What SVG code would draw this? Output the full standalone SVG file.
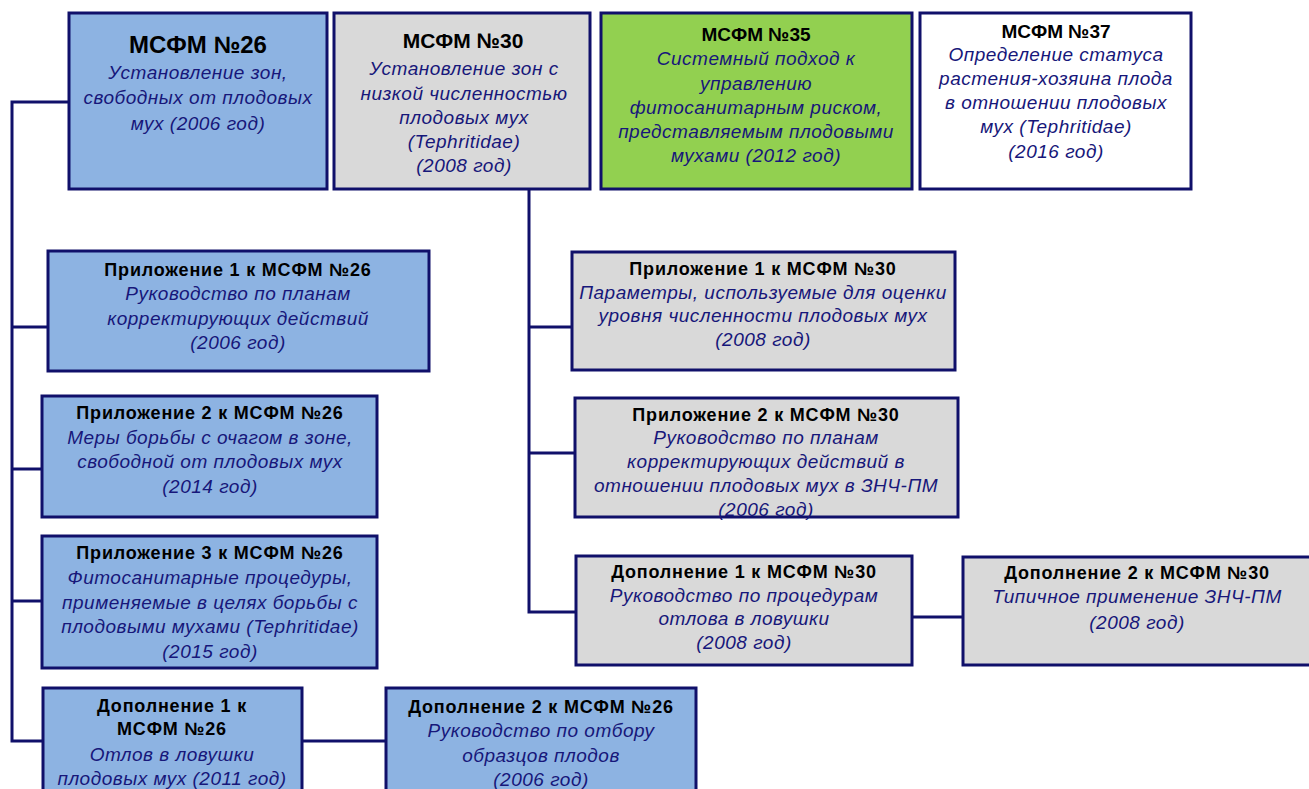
<svg xmlns="http://www.w3.org/2000/svg" width="1309" height="789" viewBox="0 0 1309 789">
<style>
.box{stroke:#10106a;stroke-width:3}
.blue{fill:#8db3e2}.gray{fill:#d9d9d9}.green{fill:#92d050}.white{fill:#ffffff}
.t{font-family:"Liberation Sans",Arial,sans-serif;font-weight:bold;fill:#000;text-anchor:middle;font-size:18px;letter-spacing:0.8px}
.h{letter-spacing:0}
.s{font-family:"Liberation Sans",Arial,sans-serif;font-style:italic;fill:#17177a;text-anchor:middle;font-size:19px;letter-spacing:0.5px}
.c{stroke:#10106a;stroke-width:3;fill:none}
</style>
<rect width="1309" height="789" fill="#fff"/>
<g id="connectors">
<polyline class="c" points="69,102 12,102 12,741 43,741"/>
<line class="c" x1="12" y1="327" x2="48" y2="327"/>
<line class="c" x1="12" y1="469" x2="42" y2="469"/>
<line class="c" x1="12" y1="601" x2="42" y2="601"/>
<line class="c" x1="302" y1="741" x2="386" y2="741"/>
<polyline class="c" points="529,189 529,612 576,612"/>
<line class="c" x1="529" y1="327" x2="572" y2="327"/>
<line class="c" x1="529" y1="453" x2="575" y2="453"/>
<line class="c" x1="912" y1="617" x2="963" y2="617"/>
</g>
<g id="ispm26">
<rect class="box blue" x="69" y="13" width="258" height="176"/>
<text class="t h" x="198" y="53" style="font-size:24px">МСФМ №26</text>
<text class="s" x="198" y="79">Установление зон,</text>
<text class="s" x="198" y="104">свободных от плодовых</text>
<text class="s" x="198" y="130">мух (2006 год)</text>
</g>
<g id="ispm30">
<rect class="box gray" x="334" y="13" width="256" height="176"/>
<text class="t h" x="463" y="48" style="font-size:21px">МСФМ №30</text>
<text class="s" x="464" y="75">Установление зон с</text>
<text class="s" x="464" y="100">низкой численностью</text>
<text class="s" x="464" y="124">плодовых мух</text>
<text class="s" x="464" y="148">(Tephritidae)</text>
<text class="s" x="464" y="172">(2008 год)</text>
</g>
<g id="ispm35">
<rect class="box green" x="601" y="13" width="311" height="176"/>
<text class="t h" x="756" y="41" style="font-size:19px">МСФМ №35</text>
<text class="s" x="756" y="65">Системный подход к</text>
<text class="s" x="756" y="90">управлению</text>
<text class="s" x="756" y="114">фитосанитарным риском,</text>
<text class="s" x="756" y="138">представляемым плодовыми</text>
<text class="s" x="756" y="162">мухами (2012 год)</text>
</g>
<g id="ispm37">
<rect class="box white" x="920" y="13" width="271" height="176"/>
<text class="t h" x="1056" y="38" style="font-size:19px">МСФМ №37</text>
<text class="s" x="1056" y="61">Определение статуса</text>
<text class="s" x="1056" y="85">растения-хозяина плода</text>
<text class="s" x="1056" y="109">в отношении плодовых</text>
<text class="s" x="1056" y="133">мух (Tephritidae)</text>
<text class="s" x="1056" y="158">(2016 год)</text>
</g>
<g id="annex1-26">
<rect class="box blue" x="48" y="251" width="381" height="120"/>
<text class="t" x="238" y="276">Приложение 1 к МСФМ №26</text>
<text class="s" x="238" y="300">Руководство по планам</text>
<text class="s" x="238" y="325">корректирующих действий</text>
<text class="s" x="238" y="349">(2006 год)</text>
</g>
<g id="annex2-26">
<rect class="box blue" x="42" y="396" width="335" height="121"/>
<text class="t" x="210" y="419">Приложение 2 к МСФМ №26</text>
<text class="s" x="210" y="444">Меры борьбы с очагом в зоне,</text>
<text class="s" x="210" y="468">свободной от плодовых мух</text>
<text class="s" x="210" y="493">(2014 год)</text>
</g>
<g id="annex3-26">
<rect class="box blue" x="42" y="536" width="335" height="132"/>
<text class="t" x="210" y="559">Приложение 3 к МСФМ №26</text>
<text class="s" x="210" y="584">Фитосанитарные процедуры,</text>
<text class="s" x="210" y="609">применяемые в целях борьбы с</text>
<text class="s" x="210" y="633">плодовыми мухами (Tephritidae)</text>
<text class="s" x="210" y="658">(2015 год)</text>
</g>
<g id="app1-26">
<rect class="box blue" x="43" y="688" width="259" height="110"/>
<text class="t" x="172" y="712">Дополнение 1 к</text>
<text class="t" x="172" y="735">МСФМ №26</text>
<text class="s" x="172" y="761">Отлов в ловушки</text>
<text class="s" x="172" y="785">плодовых мух (2011 год)</text>
</g>
<g id="app2-26">
<rect class="box blue" x="386" y="688" width="310" height="110"/>
<text class="t" x="541" y="713">Дополнение 2 к МСФМ №26</text>
<text class="s" x="541" y="737">Руководство по отбору</text>
<text class="s" x="541" y="762">образцов плодов</text>
<text class="s" x="541" y="786">(2006 год)</text>
</g>
<g id="annex1-30">
<rect class="box gray" x="572" y="252" width="383" height="118"/>
<text class="t" x="763" y="275">Приложение 1 к МСФМ №30</text>
<text class="s" x="763" y="299">Параметры, используемые для оценки</text>
<text class="s" x="763" y="322">уровня численности плодовых мух</text>
<text class="s" x="763" y="346">(2008 год)</text>
</g>
<g id="annex2-30">
<rect class="box gray" x="575" y="398" width="383" height="119"/>
<text class="t" x="766" y="421">Приложение 2 к МСФМ №30</text>
<text class="s" x="766" y="444">Руководство по планам</text>
<text class="s" x="766" y="468">корректирующих действий в</text>
<text class="s" x="766" y="492">отношении плодовых мух в ЗНЧ-ПМ</text>
<text class="s" x="766" y="516">(2006 год)</text>
</g>
<g id="app1-30">
<rect class="box gray" x="576" y="556" width="336" height="109"/>
<text class="t" x="744" y="578">Дополнение 1 к МСФМ №30</text>
<text class="s" x="744" y="602">Руководство по процедурам</text>
<text class="s" x="744" y="625">отлова в ловушки</text>
<text class="s" x="744" y="649">(2008 год)</text>
</g>
<g id="app2-30">
<rect class="box gray" x="963" y="557" width="350" height="108"/>
<text class="t" x="1137" y="579">Дополнение 2 к МСФМ №30</text>
<text class="s" x="1137" y="603">Типичное применение ЗНЧ-ПМ</text>
<text class="s" x="1137" y="629">(2008 год)</text>
</g>
</svg>
